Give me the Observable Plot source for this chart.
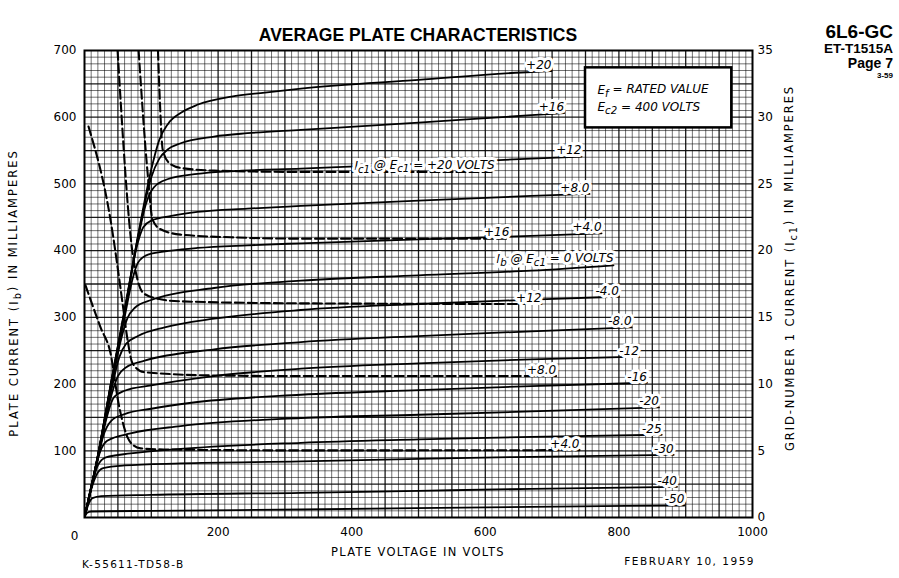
<!DOCTYPE html>
<html><head><meta charset="utf-8">
<script src="https://cdn.jsdelivr.net/npm/d3@7"></script>
<script src="https://cdn.jsdelivr.net/npm/@observablehq/plot@0.6"></script>
<style>body{margin:0;background:#fff} svg{display:block}</style>
</head><body><div id="chart"></div>
<script>
// ---- Plate current curves Ib (plate volts, plate mA), one per Ec1 ----
const ec1Labels = ["+20","+16","+12","+8.0","+4.0","I{b} @ E{c1} = 0 VOLTS","-4.0","-8.0","-12","-16","-20","-25","-30","-40","-50"];
const ibP20 = [[0,0],[20,93],[40,204],[60,311],[80,422],[100,522],[112,566],[125,590],[145,607],[170,619],[220,631],[270,637],[324,643],[500,656],[654,667],[699,669]];
const ibP16 = [[0,0],[20,93],[40,203],[60,310],[80,420],[100,510],[112,538],[125,552],[144,561],[194,571],[244,576],[324,581],[500,592],[669,603],[718,606]];
const ibP12 = [[0,0],[20,92],[40,202],[60,308],[80,418],[92,470],[104,495],[124,507],[169,515],[219,519],[324,523],[500,530],[669,538],[744,541]];
const ibP8  = [[0,0],[20,92],[40,200],[60,305],[78,405],[88,435],[100,445],[130,452],[169,458],[244,463],[324,467],[500,475],[669,482],[756,485]];
const ibP4  = [[0,0],[20,92],[40,200],[60,300],[72,358],[80,382],[95,394],[130,400],[169,404],[244,408],[324,411],[500,417],[669,422],[774,426]];
const ib0   = [[0,0],[20,90],[40,195],[55,268],[64,298],[75,314],[100,326],[194,344],[324,355],[500,363],[669,370],[792,378]];
const ibM4  = [[0,0],[20,90],[40,190],[52,240],[62,260],[80,272],[120,285],[194,298],[324,311],[500,320],[680,327],[800,331]];
const ibM8  = [[0,0],[20,90],[38,175],[50,212],[62,225],[90,235],[194,252],[324,263],[500,272],[669,279],[819,285]];
const ibM12 = [[0,0],[20,88],[32,145],[44,180],[60,190],[100,198],[194,212],[324,223],[500,231],[669,237],[830,241]];
const ibM16 = [[0,0],[18,80],[28,122],[40,145],[60,155],[100,163],[160,172],[324,184],[500,191],[669,197],[842,202]];
const ibM20 = [[0,0],[15,68],[24,100],[34,115],[69,126],[144,137],[324,149],[500,154],[669,159],[860,165]];
const ibM25 = [[0,0],[12,52],[20,78],[32,90],[69,96],[144,103],[324,112],[500,117],[669,121],[864,124]];
const ibM30 = [[0,0],[10,42],[18,64],[28,74],[60,78],[144,81],[324,84],[500,88],[669,91],[882,94]];
const ibM40 = [[0,0],[6,20],[12,29],[25,32],[100,34],[324,37],[500,40],[669,43],[887,46]];
const ibM50 = [[0,0],[4,7],[10,9],[100,10],[324,12],[669,16],[898,18]];
const plateCurves = [ibP20,ibP16,ibP12,ibP8,ibP4,ib0,ibM4,ibM8,ibM12,ibM16,ibM20,ibM25,ibM30,ibM40,ibM50];

// ---- Grid-No.1 current curves Ic1 (plate volts, grid mA) ----
const ic1Labels = ["I{c1} @ E{c1} = +20 VOLTS","+16","+12","+8.0","+4.0"];
const icP20 = [[110,35],[113,31],[117,27.6],[126,26.6],[144,26.2],[194,26.0],[324,25.9],[614,25.9]];
const icP16 = [[81,35],[94.5,25.8],[102,22.3],[114,21.6],[144,21.2],[219,21.0],[324,20.9],[636,20.9]];
const icP12 = [[49.5,35],[72,19.8],[79.5,17.8],[88.5,16.8],[114,16.35],[144,16.2],[324,16.05],[684,16.0]];
const icP8  = [[6,29.3],[39,22.3],[57,16.05],[64.5,13.3],[72,11.55],[88.5,10.9],[189,10.65],[324,10.6],[706,10.6]];
const icP4  = [[1.5,17.4],[24,14.25],[39,12.3],[51,8.55],[64.5,6.0],[73.5,5.4],[84,5.18],[118.5,5.1],[324,5.03],[741,5.05]];
const gridCurves = [icP20,icP16,icP12,icP8,icP4];

// ---- axes ----
const xTicks = [200,400,600,800,1000];
const yTicksLeft = [100,200,300,400,500,600,700];
const yTicksRight = [0,5,10,15,20,25,30,35];   // grid mA
const gridScale = 20;                           // plate mA per grid mA
const noteLines = ["E{f} = RATED VALUE","E{c2} = 400 VOLTS"];
const noteBox = {v1: 750, v2: 969, ma1: 584, ma2: 674};
const noteText = [{v: 768, ma: 641}, {v: 768, ma: 615}];

// ---- build tables ----
const plateRows = plateCurves.flatMap((c,i)=>c.map(([v,ma])=>({k:ec1Labels[i], v, ma})));
const gridRows  = gridCurves.flatMap((c,i)=>c.map(([v,ic])=>({k:ic1Labels[i], v, y: ic*gridScale})));
const plateEnds = plateCurves.map((c,i)=>({t:ec1Labels[i], v:c[c.length-1][0], ma:c[c.length-1][1]}));
const gridEnds  = gridCurves.map((c,i)=>({t:ic1Labels[i], v:c[c.length-1][0], y:c[c.length-1][1]*gridScale}));

const minorX = d3.range(10,1000,10).filter(d=>d%50);
const majorX = d3.range(50,1000,50);
const minorY = d3.range(10,700,10).filter(d=>d%50);
const majorY = d3.range(50,700,50);

const labelStyle = {fontStyle:"italic", fontSize: 12, letterSpacing: "2.2px", stroke:"white", strokeWidth:6, fill:"black", textAnchor:"end", dy:-6};

const plot = Plot.plot({
  width: 899, height: 578,
  marginLeft: 84, marginRight: 147, marginTop: 50, marginBottom: 61,
  style: {fontFamily: "DejaVu Sans", fontSize: "12px", background: "white", color:"black"},
  x: {domain:[0,1000]},
  y: {domain:[0,700]},
  marks: [
    Plot.gridX(minorX, {stroke:"#000", strokeOpacity:0.55, strokeWidth:1}),
    Plot.gridY(minorY, {stroke:"#000", strokeOpacity:0.55, strokeWidth:1}),
    Plot.gridX(majorX, {stroke:"#000", strokeOpacity:0.9, strokeWidth:1.3}),
    Plot.gridY(majorY, {stroke:"#000", strokeOpacity:0.9, strokeWidth:1.3}),
    Plot.frame({stroke:"#000", strokeWidth:2}),
    Plot.line(plateRows, {x:"v", y:"ma", z:"k", curve:"monotone-x", stroke:"#000", strokeWidth:1.8, clip:true}),
    Plot.line(gridRows, {x:"v", y:"y", z:"k", curve:"monotone-x", stroke:"#000", strokeWidth:2.1, strokeDasharray:"9,4", clip:true}),
    Plot.text(plateEnds, {x:"v", y:"ma", text:"t", ...labelStyle}),
    Plot.text(gridEnds, {x:"v", y:"y", text:"t", ...labelStyle}),
    Plot.rect([noteBox], {x1:"v1", x2:"v2", y1:"ma1", y2:"ma2", fill:"white", stroke:"black", strokeWidth:2.5}),
    Plot.text(noteText, {x:"v", y:"ma", text:(d,i)=>noteLines[i], textAnchor:"start", fontStyle:"italic", fontSize:12, letterSpacing:"2.2px"}),
    Plot.axisX({ticks: xTicks, tickFormat:d=>String(d), tickSize:0, tickPadding:10, label:null, fontSize:12, letterSpacing:"1px"}),
    Plot.text([0], {x:d=>d, frameAnchor:"bottom", dy:22, dx:-10, text:d=>String(d), fontSize:12}),
    Plot.axisY({anchor:"left", ticks: yTicksLeft, tickFormat:d=>String(d), tickSize:0, tickPadding:8, label:null, fontSize:12, letterSpacing:"1px"}),
    Plot.axisY({anchor:"right", ticks: yTicksRight.map(d=>d*gridScale), tickFormat:d=>String(d/gridScale), tickSize:0, tickPadding:5, label:null, fontSize:12, letterSpacing:"1px"})
  ]
});

const svg = d3.select(plot);
function addText(x, y, txt, opts={}){
  const t = svg.append("text").attr("x", x).attr("y", y).text(txt)
    .attr("font-family", opts.family || "DejaVu Sans")
    .attr("font-size", opts.size || 11)
    .attr("font-weight", opts.weight || "normal")
    .attr("text-anchor", opts.anchor || "start")
    .attr("letter-spacing", opts.ls || "1px")
    .attr("fill", "black");
  if (opts.rotate) t.attr("transform", `rotate(-90 ${x} ${y})`);
  return t;
}
addText(418, 41, "AVERAGE PLATE CHARACTERISTICS", {family:"Liberation Sans", weight:"bold", size:17.5, anchor:"middle", ls:"0"});
addText(893, 38, "6L6-GC", {family:"Liberation Sans", weight:"bold", size:19, anchor:"end", ls:"0"});
addText(893, 53, "ET-T1515A", {family:"Liberation Sans", weight:"bold", size:13.5, anchor:"end", ls:"0"});
addText(893, 68, "Page 7", {family:"Liberation Sans", weight:"bold", size:14, anchor:"end", ls:"0"});
addText(893, 78, "3-59", {family:"Liberation Sans", weight:"bold", size:8, anchor:"end", ls:"0"});
addText(418, 556, "PLATE VOLTAGE IN VOLTS", {anchor:"middle", size:11.5, ls:"1.3px"});
addText(82, 568, "K-55611-TD58-B", {size:10.5, ls:"1.3px"});
addText(755, 565, "FEBRUARY 10, 1959", {size:10.5, ls:"1.5px", anchor:"end"});
addText(18, 293, "PLATE CURRENT (I{b}) IN MILLIAMPERES", {anchor:"middle", size:11.5, ls:"2px", rotate:true});
addText(794, 268, "GRID-NUMBER 1 CURRENT (I{c1}) IN MILLIAMPERES", {anchor:"middle", size:11.5, ls:"1.9px", rotate:true});

// subscripts written as {..}
plot.querySelectorAll("text").forEach(t=>{
  const nodes = t.querySelectorAll("tspan").length ? [...t.querySelectorAll("tspan")] : [t];
  nodes.forEach(n=>{
    const s = n.textContent;
    if (!s.includes("{")) return;
    n.textContent = "";
    let shifted = false;
    s.split(/(\{[^}]*\})/).forEach(p=>{
      if (!p) return;
      const ts = document.createElementNS("http://www.w3.org/2000/svg","tspan");
      if (p.startsWith("{")) {
        ts.textContent = p.slice(1,-1);
        ts.setAttribute("dy","0.3em"); ts.setAttribute("font-size","85%");
        shifted = true;
      } else {
        ts.textContent = p;
        if (shifted) { ts.setAttribute("dy","-0.3em"); shifted = false; }
      }
      n.appendChild(ts);
    });
  });
});

document.getElementById("chart").appendChild(plot);
</script>
</body></html>
